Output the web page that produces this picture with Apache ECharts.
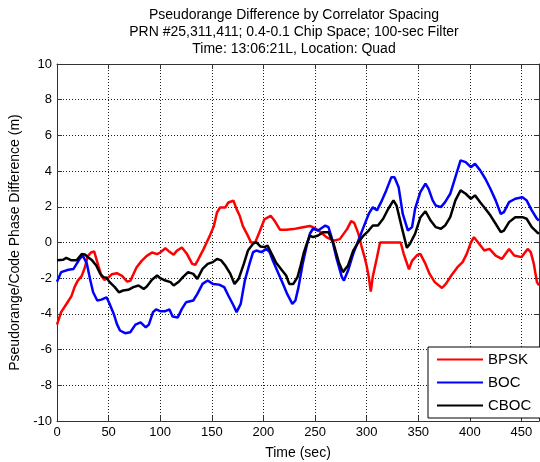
<!DOCTYPE html>
<html>
<head>
<meta charset="utf-8">
<script src="https://cdn.jsdelivr.net/npm/echarts@6/dist/echarts.min.js"></script>
<style>
  html, body { margin: 0; padding: 0; background: #fff; }
  #chart { width: 540px; height: 462px; }
</style>
</head>
<body>
<div id="chart"></div>
<script>
// Pseudorange difference traces (metres) against elapsed time (seconds)
const bpskTime = [0,4,9,14,17,20,24,27,30,33,36,40,43,46,50,53,58,63,68,71,74,77,82,87,92,97,100,105,108,113,116,121,126,131,134,137,142,145,148,152,155,158,163,166,171,174,177,180,185,188,192,196,201,207,211,216,222,229,237,245,250,255,261,268,274,281,285,288,292,295,298,300,302,304,306,310,313,320,327,333,336,341,344,349,352,357,361,366,373,377,382,388,393,397,401,404,409,414,419,425,431,438,443,450,456,459,462,465,467];
const bpskValues = [-4.6,-3.9,-3.46,-3.0,-2.5,-2.15,-1.87,-1.4,-0.75,-0.56,-0.5,-1.3,-1.87,-2.1,-1.95,-1.78,-1.72,-1.87,-2.19,-2.15,-1.78,-1.4,-1.03,-0.75,-0.56,-0.65,-0.56,-0.32,-0.47,-0.69,-0.47,-0.28,-0.65,-1.2,-1.25,-0.93,-0.37,0,0.37,0.93,1.68,1.96,1.96,2.24,2.34,1.87,1.5,0.93,0.37,0,0.0,0.56,1.3,1.5,1.2,0.72,0.72,0.75,0.84,0.93,0.8,0.6,0.3,0.1,0.19,0.75,1.2,1.1,0.5,-0.2,-0.82,-1.3,-1.9,-2.75,-1.9,-0.84,0,0,0,0,-0.65,-1.5,-1.03,-0.7,-0.64,-1.2,-1.76,-2.22,-2.55,-2.3,-1.85,-1.38,-1.1,-0.64,0,0.3,-0.07,-0.45,-0.36,-0.73,-0.92,-0.36,-0.73,-0.82,-0.36,-0.54,-1.2,-2.22,-2.4];

const bocTime = [0,4,11,16,19,22,25,29,32,35,39,43,48,51,55,58,61,66,71,76,81,86,89,93,96,100,105,109,112,117,121,125,132,136,141,146,151,157,162,166,171,174,178,182,187,190,193,198,203,206,209,214,219,223,228,231,234,238,242,245,248,253,260,263,266,271,276,278,282,287,292,297,302,306,310,314,319,324,327,331,335,340,344,347,352,357,360,364,367,372,376,381,386,391,396,401,405,410,415,420,425,430,433,438,444,451,455,460,465,467];
const bocValues = [-2.2,-1.66,-1.53,-1.48,-1.2,-0.92,-0.73,-1.2,-2.04,-2.79,-3.25,-3.2,-3.07,-3.44,-4.0,-4.56,-4.93,-5.08,-5.03,-4.6,-4.47,-4.75,-4.6,-3.9,-3.75,-3.85,-3.85,-3.75,-4.15,-4.2,-3.72,-3.35,-3.25,-2.88,-2.32,-2.13,-2.32,-2.36,-2.5,-2.97,-3.53,-3.9,-3.44,-2.13,-1.1,-0.54,-0.45,-0.54,-0.36,-0.54,-1.0,-1.66,-2.32,-2.88,-3.44,-3.25,-2.5,-1.2,-0.17,0.49,0.77,0.67,0.95,0.86,0.3,-0.92,-1.94,-2.13,-1.57,-0.64,0.11,0.86,1.6,1.98,1.8,2.26,2.92,3.66,3.66,3.1,1.6,0.67,0.86,1.9,2.82,3.3,3.0,2.36,2.07,1.98,2.26,2.73,3.66,4.6,4.5,4.22,4.41,4.04,3.57,3.0,2.36,1.6,1.7,2.26,2.45,2.54,2.36,1.8,1.33,1.23];

const cbocTime = [0,6,9,14,19,24,27,30,34,38,42,45,48,51,56,60,64,69,74,79,84,87,92,97,100,105,110,113,118,122,127,132,136,141,146,151,155,159,163,168,172,176,181,185,190,193,197,201,204,208,212,217,222,225,229,233,236,239,242,245,248,253,258,263,268,273,277,282,287,292,297,302,306,311,316,321,326,329,334,339,342,347,352,357,362,367,372,376,381,386,391,396,401,405,410,415,420,425,430,433,438,444,451,455,460,465,467];
const cbocValues = [-1.0,-0.97,-0.86,-1.0,-1.0,-0.64,-0.67,-0.82,-1.0,-1.29,-1.76,-1.94,-1.98,-2.22,-2.5,-2.79,-2.69,-2.65,-2.5,-2.41,-2.6,-2.47,-2.09,-1.85,-2.0,-2.13,-2.22,-2.41,-2.2,-1.94,-1.66,-1.76,-2.04,-1.48,-1.2,-1.1,-0.92,-1.0,-1.29,-1.76,-2.32,-2.04,-1.2,-0.45,-0.07,0.02,-0.22,-0.26,-0.17,-0.64,-1.1,-1.48,-1.85,-2.32,-2.32,-1.94,-1.3,-0.6,-0.07,0.39,0.3,0.39,0.58,0.58,-0.07,-1.1,-1.66,-1.29,-0.45,0.02,0.39,0.67,0.95,0.95,1.33,1.89,2.36,2.07,0.86,-0.3,-0.07,0.5,1.4,1.75,1.23,0.86,0.77,0.95,1.42,2.36,2.92,2.73,2.45,2.64,2.26,1.89,1.51,1.05,0.58,0.67,1.14,1.42,1.42,1.33,0.86,0.58,0.49];

const seriesNames = ['BPSK', 'BOC', 'CBOC'];
const seriesColors = ['#ff0000', '#0000ff', '#000000'];
const titleLines = [
  'Pseudorange Difference by Correlator Spacing',
  'PRN #25,311,411; 0.4-0.1 Chip Space; 100-sec Filter',
  'Time: 13:06:21L, Location: Quad'
];
const xLabel = 'Time (sec)';
const yLabel = 'Pseudorange/Code Phase Difference (m)';
const xMax = 467;

const zip = (xs, ys) => xs.map((x, i) => [x, ys[i]]);
const traces = [zip(bpskTime, bpskValues), zip(bocTime, bocValues), zip(cbocTime, cbocValues)];

const FONT = '"Liberation Sans", Arial, Helvetica, sans-serif';
const frameColor = '#333';

const chart = echarts.init(document.getElementById('chart'), null, { renderer: 'canvas' });

const frameAxis = {
  axisLine: { show: true, onZero: false, lineStyle: { color: frameColor, width: 1 } },
  axisTick: { show: true, inside: true, length: 5, lineStyle: { color: frameColor } }
};

chart.setOption({
  backgroundColor: '#fff',
  animation: false,
  title: {
    text: titleLines.join('\n'),
    left: 289,
    top: 2,
    textAlign: 'center',
    textStyle: { fontFamily: FONT, fontSize: 14, fontWeight: 'normal', color: '#000', lineHeight: 17 }
  },
  grid: { left: 57, top: 64, right: 1, bottom: 41, containLabel: false, outerBoundsMode: 'none' },
  legend: {
    data: seriesNames.map(n => ({ name: n, icon: 'rect' })),
    orient: 'vertical',
    left: 428,
    top: 347,
    padding: [5, 10, 5, 9],
    itemWidth: 46,
    itemHeight: 2,
    itemGap: 8,
    backgroundColor: '#fff',
    borderColor: '#000',
    borderWidth: 1,
    borderRadius: 0,
    textStyle: { fontFamily: FONT, fontSize: 15, color: '#000', lineHeight: 14 }
  },
  xAxis: [
    Object.assign({
      type: 'value', min: 0, max: xMax, interval: 50, position: 'bottom',
      name: xLabel, nameLocation: 'middle', nameGap: 25,
      nameTextStyle: { fontFamily: FONT, fontSize: 14, color: '#000' },
      axisLabel: {
        margin: 5, fontFamily: FONT, fontSize: 13, color: '#000',
        formatter: v => (v % 50 === 0 ? String(v) : '')
      },
      splitLine: { show: true, lineStyle: { color: '#222', type: [1, 2], width: 1 } }
    }, frameAxis),
    Object.assign({
      type: 'value', min: 0, max: xMax, interval: 50, position: 'top',
      axisLabel: { show: false }, splitLine: { show: false }
    }, frameAxis)
  ],
  yAxis: [
    Object.assign({
      type: 'value', min: -10, max: 10, interval: 2, position: 'left',
      name: yLabel, nameLocation: 'middle', nameGap: 35, nameRotate: 90,
      nameTextStyle: { fontFamily: FONT, fontSize: 14, color: '#000' },
      axisLabel: { margin: 5, fontFamily: FONT, fontSize: 13, color: '#000' },
      splitLine: { show: true, lineStyle: { color: '#222', type: [1, 2], width: 1 } }
    }, frameAxis),
    Object.assign({
      type: 'value', min: -10, max: 10, interval: 2, position: 'right',
      axisLabel: { show: false }, splitLine: { show: false }
    }, frameAxis)
  ],
  series: seriesNames.map((name, i) => ({
    name: name,
    type: 'line',
    xAxisIndex: 0,
    yAxisIndex: 0,
    data: traces[i],
    symbol: 'none',
    smooth: false,
    lineStyle: { color: seriesColors[i], width: 2.5 },
    itemStyle: { color: seriesColors[i] },
    z: 3 + i
  }))
});
</script>
</body>
</html>
